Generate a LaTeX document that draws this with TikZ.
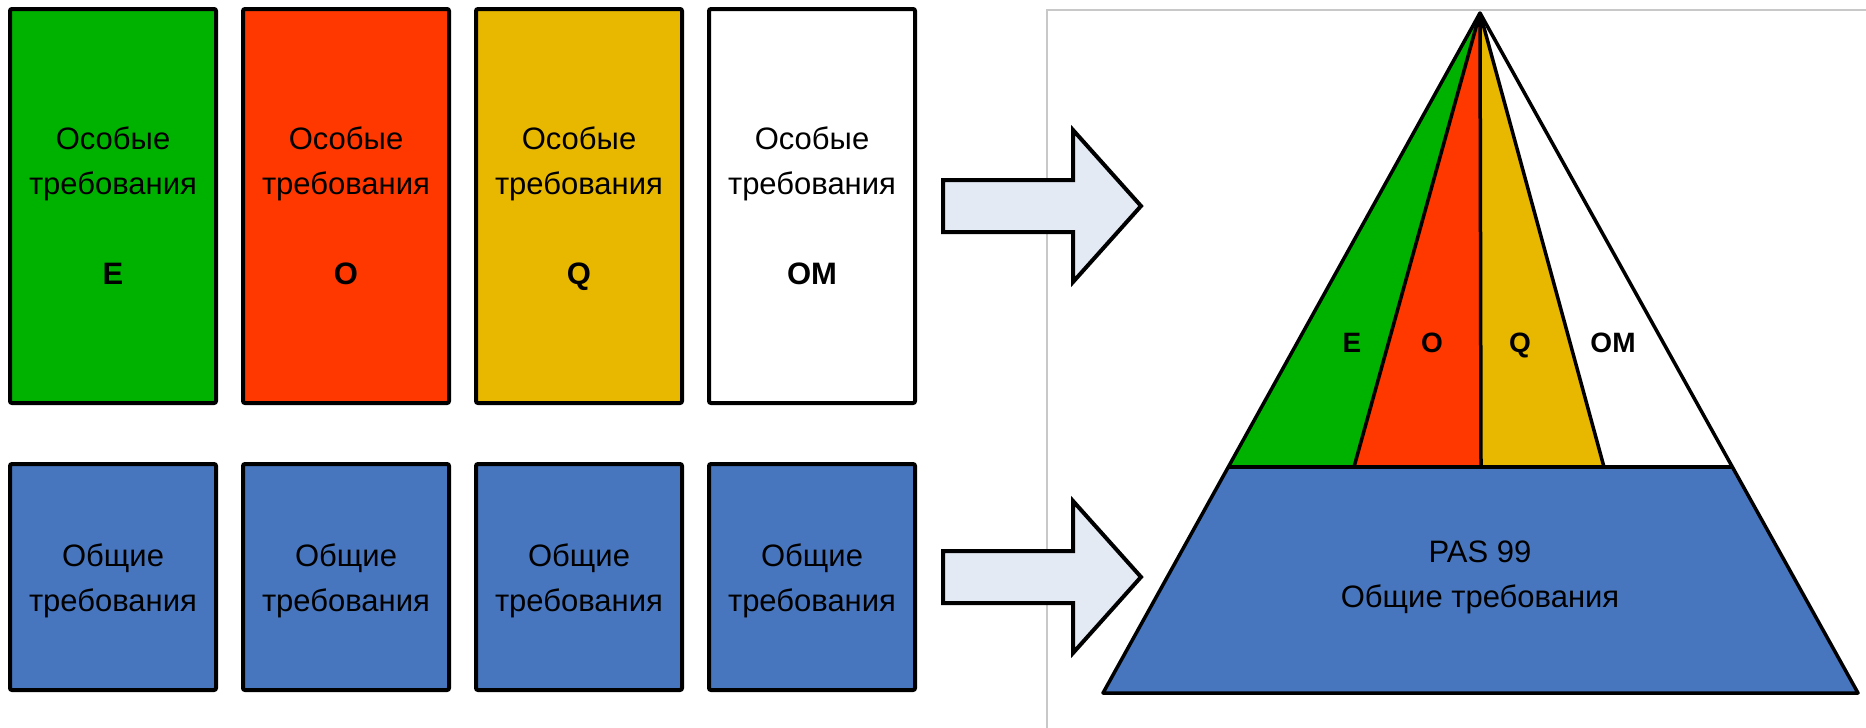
\documentclass[tikz,border=0pt]{standalone}
\usepackage{fontspec}
\setmainfont{Liberation Sans}
\usetikzlibrary{positioning}
\definecolor{grnE}{RGB}{0,178,0}
\definecolor{redO}{RGB}{255,56,0}
\definecolor{yelQ}{RGB}{232,184,0}
\definecolor{bluePAS}{RGB}{72,118,190}
\definecolor{arrfill}{RGB}{228,234,244}
\definecolor{panelgray}{RGB}{200,200,200}
\tikzset{
  reqbox/.style={draw,line width=4pt,rounded corners=2pt,inner sep=0pt,minimum width=206pt},
  topbox/.style={reqbox,minimum height=394pt},
  genbox/.style={reqbox,minimum height=226pt,fill=bluePAS},
  boxtext/.style={font=\fontsize{31}{45}\selectfont,align=center,inner sep=0pt},
  boxletter/.style={font=\fontsize{31}{36}\selectfont\bfseries,anchor=base,inner sep=0pt},
  pyrletter/.style={font=\fontsize{28}{32}\selectfont\bfseries,anchor=base,inner sep=0pt},
  bigarrow/.style={draw,line width=4pt,fill=arrfill,line join=miter},
  pyrline/.style={line width=3.5pt,line join=round}
}

\begin{document}
\begin{tikzpicture}[x=1pt,y=-1pt,node distance=233pt]
  \useasboundingbox (0,0) rectangle (1866,728);
  % panel on the right
  \draw[panelgray,line width=1.5pt] (1047,728) -- (1047,10) -- (1866,10);

  % special requirements
  \node[topbox,fill=grnE] (sE) at (113,206) {};
  \node[topbox,fill=redO] (sO) [right of=sE] {};
  \node[topbox,fill=yelQ] (sQ) [right of=sO] {};
  \node[topbox,fill=white] (sOM) [right of=sQ] {};
  % general requirements
  \node[genbox] (gE) at (113,577) {};
  \node[genbox] (gO) [right of=gE] {};
  \node[genbox] (gQ) [right of=gO] {};
  \node[genbox] (gOM) [right of=gQ] {};

  \foreach \b/\l in {sE/E,sO/O,sQ/Q,sOM/OM} {
    \node[boxtext] at (\b |- 0,164) {Особые\\требования};
    \node[boxletter] at (\b |- 0,284) {\l};
  }
  \foreach \b in {gE,gO,gQ,gOM}
    \node[boxtext] at (\b |- 0,581) {Общие\\требования};

  % arrows
  \foreach \y in {206,577}
    \draw[bigarrow] (943,\y-26) -- (1073,\y-26) -- (1073,\y-76) -- (1141,\y)
      -- (1073,\y+76) -- (1073,\y+26) -- (943,\y+26) -- cycle;

  % pyramid
  \coordinate (apex) at (1480,13);
  \coordinate (bl) at (1103,693);
  \coordinate (br) at (1858,693);
  \coordinate (ml) at (1228,467);
  \coordinate (mr) at (1733,467);
  \coordinate (p1) at (1354,467);
  \coordinate (p2) at (1481,467);
  \coordinate (p3) at (1604,467);
  \fill[grnE] (apex) -- (ml) -- (p1) -- cycle;
  \fill[redO] (apex) -- (p1) -- (p2) -- cycle;
  \fill[yelQ] (apex) -- (p2) -- (p3) -- cycle;
  \fill[white] (apex) -- (p3) -- (mr) -- cycle;
  \fill[bluePAS] (ml) -- (mr) -- (br) -- (bl) -- cycle;
  \draw[pyrline] (apex) -- (bl) -- (br) -- cycle;
  \draw[pyrline] (ml) -- (mr);
  \draw[pyrline] (apex) -- (p1) (apex) -- (p2) (apex) -- (p3);

  \node[pyrletter] (lE) at (1352,352) {E};
  \node[pyrletter] (lO) at (1432,352) {O};
  \node[pyrletter] (lQ) at (1520,352) {Q};
  \node[pyrletter] (lOM) at (1613,352) {OM};
  \node[boxtext] (pas) at (1480,577) {PAS 99\\Общие требования};
\end{tikzpicture}
\end{document}
